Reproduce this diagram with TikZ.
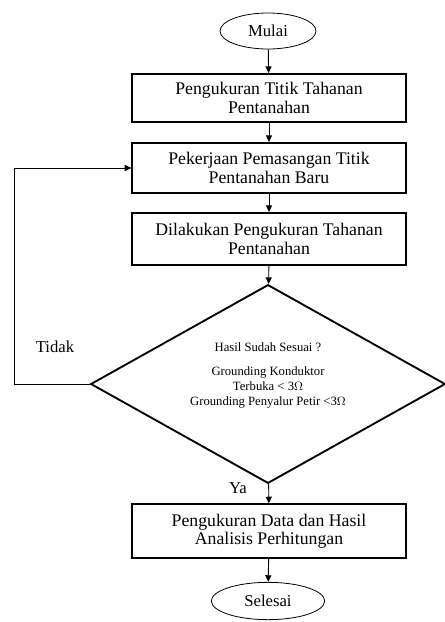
\documentclass[tikz,border=0pt]{standalone}
\usepackage{fontspec}
\setmainfont{Liberation Serif}
\usepackage{tikz}
\usetikzlibrary{arrows.meta,shapes.geometric}
\tikzset{%
  tipA/.tip={Triangle[length=5pt,width=4.5pt]},
  terminal/.style={draw,ellipse,line width=.6pt,inner sep=0pt,font=\fontsize{12.5}{14}\selectfont},
  proses/.style={draw,rectangle,line width=1.4pt,minimum width=205pt,align=center,inner sep=0pt,font=\fontsize{13.3}{13.8}\selectfont},
  keputusan/.style={draw,diamond,aspect=1.8,line width=1.4pt,minimum width=266pt,minimum height=149pt,inner sep=0pt,align=center,font=\fontsize{9.5}{11.2}\selectfont},
  panah/.style={line width=.7pt,-tipA}
}

\begin{document}
\begin{tikzpicture}[x=0.75pt,y=-0.75pt]
\useasboundingbox (0,0) rectangle (445,622);

\node[terminal,minimum width=72pt,minimum height=27pt] (mulai) at (268,31) {Mulai};
\node[proses,minimum height=36pt] (ukur) at (269,98) {Pengukuran Titik Tahanan\\Pentanahan};
\node[proses,minimum height=37.5pt] (kerja) at (269,168) {Pekerjaan Pemasangan Titik\\Pentanahan Baru};
\node[proses,minimum height=39pt] (cek) at (269,239) {Dilakukan Pengukuran Tahanan\\Pentanahan};
\node[keputusan] (hasil) at (268,384) {Hasil Sudah Sesuai ?\\[7pt]Grounding Konduktor\\Terbuka {\textless} 3$\Omega$\\Grounding Penyalur Petir {\textless}3$\Omega$\\[4pt]\mbox{}};
\node[proses,minimum height=40pt] (analisis) at (269,531) {Pengukuran Data dan Hasil\\Analisis Perhitungan};
\node[terminal,minimum width=85pt,minimum height=28pt] (selesai) at (268,601) {Selesai};

\node[font=\fontsize{12.5}{14}\selectfont] (tidak) at (55,347) {Tidak};
\node[font=\fontsize{12.5}{14}\selectfont] (ya) at (238,488) {Ya};
\coordinate (balik) at (14,384);

\draw[panah] (mulai) -- (ukur);
\draw[panah] (ukur) -- (kerja);
\draw[panah] (kerja) -- (cek);
\draw[panah] (cek) -- (hasil);
\draw[panah] (hasil) -- (analisis);
\draw[panah] (analisis) -- (selesai);
\draw[panah] (hasil.west) -- (balik) |- (kerja.west);
\end{tikzpicture}
\end{document}
